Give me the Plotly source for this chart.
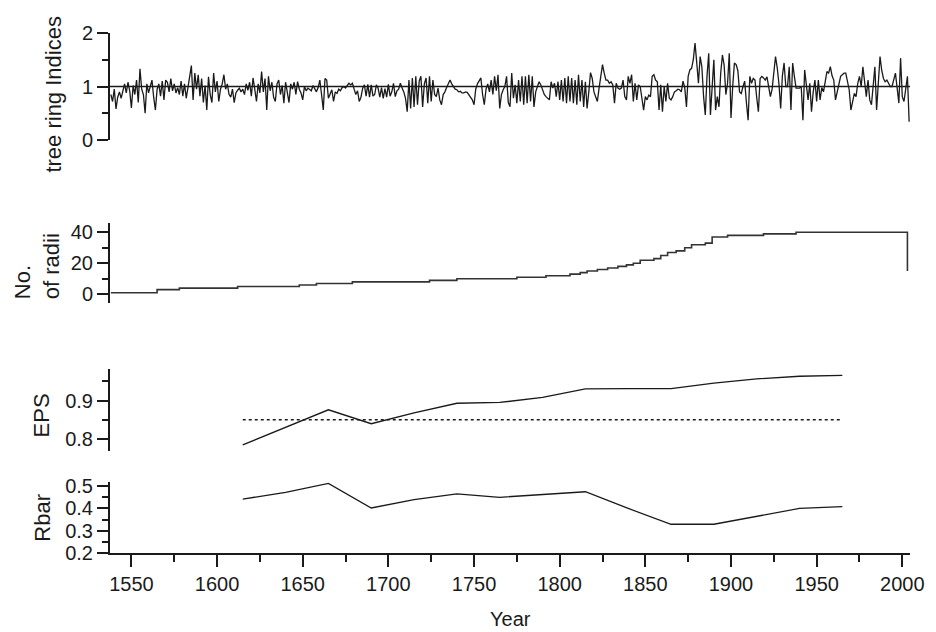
import plotly.graph_objects as go

# ---------------- data ----------------
ring_start_year = 1538
ring_index = [
    0.85, 0.72,
    0.95, 0.58, 0.80, 0.90, 0.78, 0.95, 1.05, 0.88, 1.08, 0.92,  # 1540s
    0.60, 1.02, 0.85, 1.12, 0.70, 1.33, 0.95, 0.85, 0.50, 1.05,  # 1550s
    0.88, 1.00, 1.12, 0.80, 0.56, 0.95, 1.05, 0.82, 1.10, 0.75,  # 1560s
    1.12, 1.08, 0.90, 1.15, 0.92, 1.05, 0.88, 0.98, 0.85, 1.10,  # 1570s
    0.82, 1.05, 0.78, 0.98, 1.20, 1.39, 0.75, 1.25, 0.95, 1.22,  # 1580s
    0.82, 1.15, 0.70, 1.02, 0.56, 1.18, 0.85, 0.70, 1.25, 0.90,  # 1590s
    1.10, 0.72, 0.95, 1.05, 1.22, 0.95, 1.05, 0.85, 0.80, 0.95,  # 1600s
    0.70, 0.88, 0.93, 0.97, 0.90, 0.95, 0.85, 1.05, 0.93, 1.08,  # 1610s
    0.82, 1.16, 0.95, 0.72, 1.05, 0.88, 1.28, 0.90, 1.15, 0.56,  # 1620s
    1.19, 0.92, 1.08, 0.80, 0.72, 1.05, 1.12, 0.85, 1.02, 0.69,  # 1630s
    1.08, 0.90, 0.70, 1.05, 0.95, 1.08, 0.85, 1.09, 0.95, 0.88,  # 1640s
    0.75, 1.00, 0.92, 0.97, 0.95, 0.92, 1.02, 0.95, 0.90, 0.98,  # 1650s
    1.12, 0.85, 0.56, 1.15, 1.12, 0.78, 0.88, 0.94, 0.72, 0.90,  # 1660s
    0.87, 0.95, 0.92, 0.98, 1.00, 0.97, 1.02, 1.06, 1.03, 1.06,  # 1670s
    0.95, 0.85, 0.92, 0.72, 0.80, 0.97, 1.03, 0.82, 1.04, 0.80,  # 1680s
    1.03, 0.82, 0.85, 1.03, 0.97, 0.80, 0.98, 0.78, 0.96, 0.80,  # 1690s
    1.04, 0.82, 0.90, 1.06, 0.81, 0.92, 0.95, 1.06, 0.97, 0.90,  # 1700s
    0.78, 0.53, 1.12, 0.59, 1.16, 0.62, 1.19, 0.66, 1.10, 1.19,  # 1710s
    0.62, 1.05, 1.16, 0.69, 1.19, 0.72, 1.12, 0.85, 0.81, 0.97,  # 1720s
    0.75, 0.66, 0.85, 0.90, 0.98, 1.06, 1.12, 1.05, 1.00, 0.95,  # 1730s
    0.94, 0.90, 0.91, 0.88, 0.88, 0.90, 0.89, 0.85, 0.81, 0.75,  # 1740s
    0.66, 0.95, 1.05, 1.12, 1.16, 0.85, 0.66, 0.95, 1.05, 0.90,  # 1750s
    1.12, 0.85, 1.19, 0.92, 1.22, 0.59, 0.85, 0.94, 1.00, 1.19,  # 1760s
    0.70, 0.62, 1.25, 0.78, 1.03, 0.69, 1.12, 0.72, 1.19, 0.66,  # 1770s
    1.19, 0.69, 1.22, 0.72, 1.19, 0.62, 0.90, 1.00, 1.09, 1.03,  # 1780s
    0.94, 0.85, 0.81, 0.78, 0.75, 1.09, 0.97, 1.06, 0.81, 1.09,  # 1790s
    0.75, 1.12, 0.72, 1.16, 0.69, 1.19, 0.72, 1.16, 0.69, 1.12,  # 1800s
    0.66, 1.22, 0.72, 1.12, 0.62, 1.09, 0.59, 0.90, 1.26, 1.15,  # 1810s
    0.90, 0.81, 0.72, 0.97, 1.20, 1.41, 1.25, 1.12, 1.12, 1.06,  # 1820s
    1.09, 1.03, 0.69, 1.06, 0.97, 0.95, 0.97, 1.12, 0.81, 0.75,  # 1830s
    1.19, 1.06, 1.22, 0.72, 1.06, 0.75, 1.03, 1.00, 0.78, 0.56,  # 1840s
    0.81, 0.75, 0.84, 0.81, 1.19, 1.22, 1.12, 1.09, 0.56, 1.03,  # 1850s
    0.53, 1.00, 0.72, 1.06, 0.78, 0.75, 0.81, 0.90, 0.92, 0.95,  # 1860s
    0.94, 0.90, 1.10, 0.98, 0.62, 1.19, 1.31, 1.34, 1.50, 1.81,  # 1870s
    1.45, 1.06, 1.56, 1.37, 0.81, 0.47, 1.19, 1.62, 0.47, 1.03,  # 1880s
    1.50, 0.56, 0.81, 0.62, 1.25, 1.59, 1.40, 0.85, 1.06, 1.62,  # 1890s
    0.41, 1.00, 1.44, 1.41, 1.30, 0.90, 0.87, 1.00, 1.10, 0.70,  # 1900s
    0.37, 1.19, 1.06, 1.15, 1.12, 0.80, 0.53, 1.15, 1.19, 1.16,  # 1910s
    1.12, 1.18, 1.02, 0.81, 0.95, 1.25, 1.56, 1.35, 1.05, 0.59,  # 1920s
    1.20, 1.44, 1.00, 1.00, 1.37, 0.56, 1.44, 1.19, 0.97, 0.97,  # 1930s
    0.97, 1.00, 0.37, 1.31, 1.00, 0.75, 1.06, 0.53, 0.90, 1.12,  # 1940s
    0.72, 1.12, 0.75, 0.98, 0.90, 1.06, 1.28, 1.25, 1.37, 1.20,  # 1950s
    1.12, 0.75, 0.90, 1.06, 1.19, 1.22, 1.25, 1.25, 1.12, 0.94,  # 1960s
    0.56, 0.69, 0.87, 0.81, 1.06, 1.19, 1.00, 1.37, 1.06, 0.81,  # 1970s
    1.12, 0.75, 0.66, 1.06, 1.37, 0.56, 1.19, 1.56, 1.30, 1.15,  # 1980s
    1.09, 1.12, 1.06, 1.00, 1.00, 1.12, 1.25, 0.97, 0.69, 1.53,  # 1990s
    0.81, 0.72, 0.94, 1.19, 0.34,                                # 2000s
]
ring_years = list(range(ring_start_year, ring_start_year + len(ring_index)))
ring_mean = 1.0

radii_years = [1538, 1565, 1578, 1612, 1648, 1658, 1679, 1724, 1740, 1775, 1792,
               1806, 1812, 1816, 1822, 1828, 1834, 1839, 1843, 1847, 1855, 1859,
               1863, 1868, 1873, 1877, 1885, 1889, 1898, 1919, 1938, 2003]
radii_count = [1, 3, 4, 5, 6, 7, 8, 9, 10, 11, 12,
               13, 14, 15, 16, 17, 18, 19, 20, 22, 23, 25,
               27, 28, 30, 32, 33, 37, 38, 39, 40, 15]

stat_years = [1615, 1640, 1665, 1690, 1715, 1740, 1765, 1790, 1815, 1840, 1865,
              1890, 1915, 1940, 1965]
eps_values = [0.785, 0.830, 0.876, 0.840, 0.868, 0.893, 0.895, 0.908, 0.930,
              0.931, 0.931, 0.945, 0.956, 0.963, 0.965]
rbar_values = [0.442, 0.472, 0.512, 0.402, 0.440, 0.465, 0.450, 0.462, 0.475,
               0.400, 0.329, 0.329, 0.363, 0.400, 0.408]
eps_threshold = 0.85

x_ticks = [1550, 1600, 1650, 1700, 1750, 1800, 1850, 1900, 1950, 2000]

# ---------------- figure ----------------
INK = "#1a1a1a"
FONT = "Liberation Sans, Arial, sans-serif"

fig = go.Figure()
fig.add_trace(go.Scatter(x=ring_years, y=ring_index, mode="lines",
                         line=dict(color=INK, width=1.3), yaxis="y"))
fig.add_trace(go.Scatter(x=radii_years, y=radii_count, mode="lines",
                         line=dict(color="#333333", width=1.6, shape="hv"), yaxis="y2"))
fig.add_trace(go.Scatter(x=stat_years, y=eps_values, mode="lines",
                         line=dict(color=INK, width=1.3), yaxis="y3"))
fig.add_trace(go.Scatter(x=[stat_years[0], stat_years[-1]], y=[eps_threshold, eps_threshold],
                         mode="lines", line=dict(color=INK, width=1.5, dash="dot"), yaxis="y3"))
fig.add_trace(go.Scatter(x=stat_years, y=rbar_values, mode="lines",
                         line=dict(color=INK, width=1.3), yaxis="y4"))

axis_common = dict(showline=True, linecolor=INK, linewidth=2, ticks="outside",
                   tickcolor=INK, tickwidth=2, showgrid=False, zeroline=False,
                   tickfont=dict(family=FONT, size=20, color=INK), anchor="x",
                   fixedrange=True)

def minor(dtick, tick0=0):
    return dict(ticks="outside", dtick=dtick, tick0=tick0, ticklen=6,
                tickwidth=2, tickcolor=INK, showgrid=False)

# page body has an 8px default margin, so the figure is 8px smaller than the window
fig.update_layout(
    width=928, height=624,
    margin=dict(l=102, r=18, t=25, b=79),
    paper_bgcolor="white", plot_bgcolor="white",
    showlegend=False,
    xaxis=dict(range=[1537.5, 2004.5], tickvals=x_ticks, showline=True, linecolor=INK,
               linewidth=2, ticks="outside", ticklen=12, tickwidth=2, tickcolor=INK,
               showgrid=False, zeroline=False, anchor="y4",
               tickfont=dict(family=FONT, size=20, color=INK),
               minor=dict(ticks="outside", dtick=25, tick0=1525, ticklen=7,
                          tickwidth=2, tickcolor=INK, showgrid=False)),
    yaxis=dict(domain=[0.7942, 1.0], range=[0, 2], tickvals=[0, 1, 2], ticklen=11,
               minor=minor(0.5), **axis_common),
    yaxis2=dict(domain=[0.4802, 0.634], range=[-5.8, 45.8], tickvals=[0, 20, 40],
                ticklen=11, minor=minor(10), **axis_common),
    yaxis3=dict(domain=[0.1967, 0.3533], range=[0.77, 0.981], tickvals=[0.8, 0.9],
                ticktext=["0.8", "0.9"], ticklen=11, minor=minor(0.05), **axis_common),
    yaxis4=dict(domain=[0.0, 0.1371], range=[0.2, 0.52], tickvals=[0.2, 0.3, 0.4, 0.5],
                ticktext=["0.2", "0.3", "0.4", "0.5"], ticklen=11, minor=minor(0.05),
                **axis_common),
)

# reference line at index 1 across the whole top panel
fig.add_shape(type="line", xref="paper", x0=0, x1=1, yref="y", y0=ring_mean, y1=ring_mean,
              line=dict(color=INK, width=1.6))

title_font = dict(family=FONT, size=22, color=INK)
fig.add_annotation(text="tree ring Indices", textangle=-90, xref="paper", yref="paper",
                   x=-0.0705, y=0.8827, xanchor="center", yanchor="middle",
                   showarrow=False, font=title_font)
fig.add_annotation(text="No.<br>of radii", textangle=-90, xref="paper", yref="paper",
                   x=-0.0903, y=0.551, xanchor="center", yanchor="middle", align="left",
                   showarrow=False, font=title_font)
fig.add_annotation(text="EPS", textangle=-90, xref="paper", yref="paper",
                   x=-0.0854, y=0.264, xanchor="center", yanchor="middle",
                   showarrow=False, font=title_font)
fig.add_annotation(text="Rbar", textangle=-90, xref="paper", yref="paper",
                   x=-0.0854, y=0.0673, xanchor="center", yanchor="middle",
                   showarrow=False, font=title_font)
fig.add_annotation(text="Year", xref="paper", yref="paper", x=0.5, y=-0.102,
                   xanchor="center", yanchor="top", showarrow=False,
                   font=dict(family=FONT, size=20, color=INK))

fig.write_html("out.html")
